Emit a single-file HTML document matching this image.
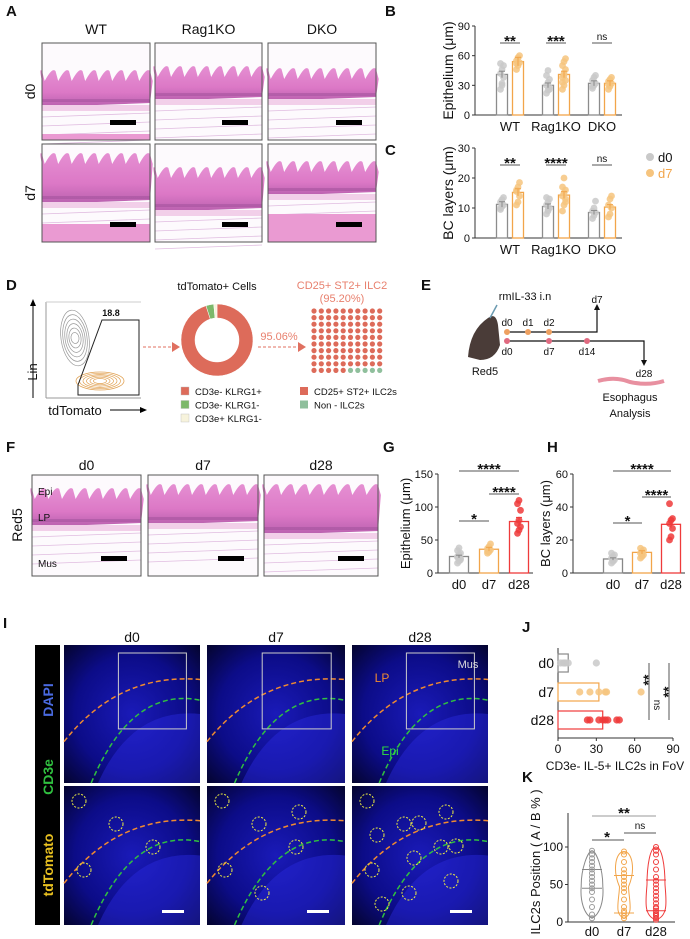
<!DOCTYPE html>
<html><head><meta charset="utf-8">
<style>
html,body{margin:0;padding:0;background:#fff;}
svg{display:block;font-family:"Liberation Sans",Arial,sans-serif;}
</style></head>
<body>
<svg id="fig" width="690" height="939" viewBox="0 0 690 939" xmlns="http://www.w3.org/2000/svg">
<defs>
<linearGradient id="he" x1="0" y1="0" x2="0" y2="1">
<stop offset="0" stop-color="#e58fd2"/><stop offset="0.6" stop-color="#dc78c6"/><stop offset="1" stop-color="#b860ae"/>
</linearGradient>
<radialGradient id="fl" cx="0.5" cy="0.5" r="0.7">
<stop offset="0" stop-color="#1a1ab8"/><stop offset="0.6" stop-color="#0c0c88"/><stop offset="1" stop-color="#040430"/>
</radialGradient>
</defs>
<g id="panels"></g>
</svg>
<script>
// ---- chart data ----
var bGroups=["WT","Rag1KO","DKO"];
var bD0=[41,30,32];
var bD7=[54,41,32];
var bD0pts=[[26,32,38,42,46,50,52,30],[22,25,28,30,33,36,40,45,26],[27,30,32,35,38,40,29]];
var bD7pts=[[46,50,53,55,58,60,52],[26,30,35,38,42,46,50,54,57,33,40],[26,29,32,34,36,38,31]];
var bTicks=[0,30,60,90];
var bSig=["**","***","ns"];
var cD0=[11.2,10.5,8.5];
var cD7=[15.2,14.3,10.3];
var cD0pts=[[9.5,10.5,11,12,12.8,13.5,10],[8,9,10,11,12,13,13.5,9.5],[6.5,7.5,8.5,9,10,12.3]];
var cD7pts=[[11,12,14,15.5,17,18.5,16],[9,11,13,14,15,16,17,20,12],[7,8,10,11,13,14]];
var cTicks=[0,10,20,30];
var cSig=["**","****","ns"];
var donutVals=[95.06,3.5,1.44];
var gridRed=95;
var tCats=["d0","d7","d28"];
var gMeans=[25,36,78];
var gPts=[[15,18,22,25,28,30,34,38,20,24],[30,32,35,37,40,44,33,36],[60,65,70,75,80,95,105,110]];
var gTicks=[0,50,100,150];
var hMeans=[8.5,12.5,29.5];
var hPts=[[6,7,8,9,10,11,12,8],[9,10,11,12,13,14,15,12],[20,22,27,30,32,33,42]];
var hTicks=[0,20,40,60];
var jMeans=[8,32,35];
var jPts=[[2,4,5,6,8,30],[17,25,32,37,38,65],[23,25,32,35,37,39,46,48]];
var jTicks=[0,30,60,90];
var kPts=[[5,10,20,30,40,45,50,55,60,65,70,75,80,85,90,95],[5,8,12,15,20,30,40,45,50,55,60,65,70,80,90,94],[3,5,8,10,12,15,18,20,25,30,35,40,45,50,55,60,70,80,90,95,100]];
var kMed=[[45,70],[12,62],[15,56]];
var kTicks=[0,50,100];

var NS="http://www.w3.org/2000/svg";
var root=document.getElementById("panels");
function el(tag,attrs,parent,text){var e=document.createElementNS(NS,tag);for(var k in attrs)e.setAttribute(k,attrs[k]);if(text!==undefined)e.textContent=text;(parent||root).appendChild(e);return e;}
function txt(x,y,s,size,parent,extra){var a={x:x,y:y,"font-size":size,"text-anchor":"middle",fill:"#111"};if(extra)for(var k in extra)a[k]=extra[k];return el("text",a,parent,s);}
function lbl(x,y,s){var t=txt(x,y,s,15,root,{"font-weight":"bold","text-anchor":"start"});

}
var grey="#8c8c8c",greyPt="#c9c9c9",org="#f2a54a",orgPt="#f6c47e",red="#ef3b3b",redPt="#ee3a3a";

// ---------- Panel A histology ----------
lbl(6,16,"A");
var aCols=[[42,150],[155,262],[268,376]], aRows=[[43,140],[144,242]];
["WT","Rag1KO","DKO"].forEach(function(s,i){var t=txt((aCols[i][0]+aCols[i][1])/2,34,s,14);

});
["d0","d7"].forEach(function(s,i){var t=txt(0,0,s,14,root,{transform:"translate(35,"+((aRows[i][0]+aRows[i][1])/2)+") rotate(-90)"});

});
function histo(x0,x1,y0,y1,bandTop,bandH,nm,muscle){
 var g=el("g",{});
 
 
 el("rect",{x:x0,y:y0,width:x1-x0,height:y1-y0,fill:"#fdfafd"},g);
 var w=x1-x0,p="M"+x0+","+(y0+bandTop+6);
 for(var i=0;i<=8;i++){var xx=x0+w*i/8;p+=" Q"+(xx-w/32)+","+(y0+bandTop-8)+" "+xx+","+(y0+bandTop-4)+" L"+(xx+w/40)+","+(y0+bandTop+6);}
 p+=" L"+x1+","+(y0+bandTop+bandH)+" L"+x0+","+(y0+bandTop+bandH+4)+"Z";
 el("path",{d:p,fill:"url(#he)"},g);
 el("rect",{x:x0,y:y0+bandTop+bandH-4,width:w,height:3,fill:"#a0509a","fill-opacity":0.5},g);
 el("rect",{x:x0,y:y0+bandTop+bandH+2,width:w,height:6,fill:"#f2cfe9"},g);
 for(var k=0;k<4;k++)el("line",{x1:x0,y1:y0+bandTop+bandH+14+k*9,x2:x1,y2:y0+bandTop+bandH+10+k*9,stroke:"#e0bce0","stroke-width":0.8},g);
 if(muscle)el("rect",{x:x0,y:y1-muscle,width:w,height:muscle,fill:"#ea9ad2"},g);
 el("rect",{x:x1-40,y:y1-20,width:26,height:5,fill:"#000"},g);
 el("rect",{x:x0,y:y0,width:w,height:y1-y0,fill:"none",stroke:"#555","stroke-width":1},g);
}
histo(42,150,43,140,32,28,"he-wt-d0",6);histo(155,262,43,140,28,26,"he-rag1ko-d0",0);histo(268,376,43,140,30,24,"he-dko-d0",0);
histo(42,150,144,242,14,42,"he-wt-d7",18);histo(155,262,144,242,28,36,"he-rag1ko-d7",0);histo(268,376,144,242,22,26,"he-dko-d7",28);

// ---------- generic vertical bar chart ----------
function vbar(o){
 var g=el("g",{});
 
 
 var max=o.ticks[o.ticks.length-1];
 function Y(v){return o.y0-(v/max)*(o.y0-o.yTop);}
 el("line",{x1:o.ax,y1:o.yTop,x2:o.ax,y2:o.y0,stroke:"#333"},g);
 el("line",{x1:o.ax,y1:o.y0,x2:o.xEnd,y2:o.y0,stroke:"#333"},g);
 o.ticks.forEach(function(t){el("line",{x1:o.ax-3,y1:Y(t),x2:o.ax,y2:Y(t),stroke:"#333"},g);
  var tl=txt(o.ax-5,Y(t)+4,String(t),11,g,{"text-anchor":"end"});
  
  });
 var yl=txt(0,0,o.ylab,o.ylsize||14,g,{transform:"translate("+o.ylx+","+((o.yTop+o.y0)/2)+") rotate(-90)"});
 
 
 o.series.forEach(function(s){
  s.means.forEach(function(m,i){
   var cx=o.xs[i]+s.off, bw=o.bw;
   var col=s.cols?s.cols[i]:s.col, pc=s.pcs?s.pcs[i]:s.pt;
   var b=el("rect",{x:cx-bw/2,y:Y(m),width:bw,height:o.y0-Y(m),fill:"#fff",stroke:col,"stroke-width":1.3},g);
   
   
   s.pts[i].forEach(function(v,j){var c=el("circle",{cx:cx+((j%3)-1)*1.5,cy:Y(v),r:3.4,fill:pc,"fill-opacity":0.85},g);
    
    });
   el("line",{x1:cx-3,y1:Y(m*1.08),x2:cx+3,y2:Y(m*1.08),stroke:col},g);
   el("line",{x1:cx,y1:Y(m*1.08),x2:cx,y2:Y(m*0.92),stroke:col},g);
  });
 });
 o.cats.forEach(function(c,i){var t=txt(o.xs[i]+(o.catOff||0),o.y0+16,c,13,g);
  
  });
 (o.sigs||[]).forEach(function(s){el("line",{x1:s[0],y1:s[2],x2:s[1],y2:s[2],stroke:"#555"},g);
  var st=txt((s[0]+s[1])/2,s[2]-(s[3]=="ns"?3:-3),s[3],s[3]=="ns"?10:15,g,{"font-weight":s[3]=="ns"?"normal":"bold"});
  
  });
 return g;
}
lbl(385,16,"B");lbl(385,155,"C");
var bxs=[510,556,602];
vbar({name:"chart-b-epithelium",ax:475,y0:115,yTop:26,xEnd:622,ticks:bTicks,ylab:"Epithelium (μm)",ylx:453,cats:bGroups,xs:bxs,bw:11,catOff:0,
 series:[{key:"d0",means:bD0,pts:bD0pts,col:grey,pt:greyPt,off:-8},{key:"d7",means:bD7,pts:bD7pts,col:org,pt:orgPt,off:8}],
 sigs:bSig.map(function(s,i){return [bxs[i]-10,bxs[i]+10,43,s];})});
vbar({name:"chart-c-bc-layers",ax:475,y0:238,yTop:148,xEnd:622,ticks:cTicks,ylab:"BC layers (μm)",ylx:453,cats:bGroups,xs:bxs,bw:11,
 series:[{key:"d0",means:cD0,pts:cD0pts,col:grey,pt:greyPt,off:-8},{key:"d7",means:cD7,pts:cD7pts,col:org,pt:orgPt,off:8}],
 sigs:cSig.map(function(s,i){return [bxs[i]-10,bxs[i]+10,165,s];})});
var lg=el("g",{});
el("circle",{cx:650,cy:157,r:4,fill:greyPt},lg);txt(658,162,"d0",13,lg,{"text-anchor":"start"});
el("circle",{cx:650,cy:173,r:4,fill:orgPt},lg);txt(658,178,"d7",13,lg,{"text-anchor":"start",fill:org});

// ---------- Panel D ----------
lbl(6,290,"D");
var fg=el("g",{});
el("line",{x1:46,y1:302,x2:46,y2:398,stroke:"#999"},fg);el("line",{x1:46,y1:398,x2:141,y2:398,stroke:"#999"},fg);
el("line",{x1:46,y1:302,x2:141,y2:302,stroke:"#ccc"},fg);
for(var i=0;i<6;i++){el("ellipse",{cx:75,cy:338,rx:14-i*2,ry:28-i*4.5,fill:"none",stroke:"#999","stroke-width":0.7,transform:"rotate(-8 75 338)"},fg);
 el("ellipse",{cx:100,cy:381,rx:24-i*3.5,ry:9-i*1.3,fill:"none",stroke:"#e0a050","stroke-width":0.7},fg);}
el("polygon",{points:"102,320 139,320 139,395 78,395 78,385",fill:"none",stroke:"#222","stroke-width":1},fg);
txt(111,316,"18.8",9,fg,{"font-weight":"bold"});
el("line",{x1:33,y1:398,x2:33,y2:305,stroke:"#000"},fg);el("polygon",{points:"30,306 36,306 33,299",fill:"#000"},fg);
txt(0,0,"Lin",13,fg,{transform:"translate(37,372) rotate(-90)"});
txt(75,415,"tdTomato",13,fg);el("line",{x1:110,y1:410,x2:140,y2:410,stroke:"#000"},fg);el("polygon",{points:"140,407 140,413 147,410",fill:"#000"},fg);
el("line",{x1:143,y1:347,x2:173,y2:347,stroke:"#e07060","stroke-dasharray":"3,2"});el("polygon",{points:"172,342 172,352 180,347",fill:"#e07060"});
var dg=el("g",{});
txt(217,290,"tdTomato+ Cells",11,dg);
var dCols=["#dd6b5a","#7cb86a","#f7f3dc"],tot=donutVals.reduce(function(a,b){return a+b;},0),ang=0,cx=217,cy=340,R=36,r=22;
donutVals.forEach(function(v,i){var a0=ang,a1=ang+v/tot*2*Math.PI;ang=a1;
 var p=function(rr,a){return (cx+rr*Math.sin(a)).toFixed(2)+","+(cy-rr*Math.cos(a)).toFixed(2);};
 var lg2=(a1-a0)>Math.PI?1:0;
 var s=el("path",{d:"M"+p(R,a0)+" A"+R+","+R+" 0 "+lg2+" 1 "+p(R,a1)+" L"+p(r,a1)+" A"+r+","+r+" 0 "+lg2+" 0 "+p(r,a0)+"Z",fill:dCols[i],stroke:"#fff","stroke-width":0.5},dg);
 });
var dl=["CD3e- KLRG1+","CD3e- KLRG1-","CD3e+ KLRG1-"];
dl.forEach(function(s,i){var e=el("rect",{x:181,y:387+i*13.5,width:8,height:8,fill:dCols[i],stroke:"#bbb","stroke-width":0.4});
 
 txt(195,395+i*13.5,s,9.5,root,{"text-anchor":"start"});});
txt(279,340,"95.06%",11,root,{fill:"#e8806e"});
el("line",{x1:258,y1:347,x2:298,y2:347,stroke:"#e07060","stroke-dasharray":"3,2"});el("polygon",{points:"298,342 298,352 306,347",fill:"#e07060"});
txt(342,289,"CD25+ ST2+ ILC2",11,root,{fill:"#e8806e"});txt(342,302,"(95.20%)",11,root,{fill:"#e8806e"});
var gg=el("g",{});
for(var k=0;k<100;k++){var rr2=Math.floor(k/10),cc=k%10;var c=el("circle",{cx:314+cc*7.3,cy:311+rr2*6.6,r:2.6,fill:k<gridRed?"#dd6b5a":"#8fbf9c"},gg);
 }
[["CD25+ ST2+ ILC2s","#dd6b5a"],["Non - ILC2s","#8fbf9c"]].forEach(function(s,i){el("rect",{x:300,y:387+i*13.5,width:8,height:8,fill:s[1]});
 txt(314,395+i*13.5,s[0],9.5,root,{"text-anchor":"start"});});

// ---------- Panel E ----------
lbl(421,290,"E");
var eg=el("g",{});
el("path",{d:"M468,357 Q470,330 488,318 Q496,312 498,325 L500,345 Q495,360 480,360Z",fill:"#4a3c38"},eg);
el("line",{x1:490,y1:318,x2:497,y2:305,stroke:"#6a9ab0","stroke-width":1.5},eg);
txt(485,375,"Red5",11,eg);txt(525,300,"rmIL-33 i.n",11,eg);
el("polyline",{points:"507,332 597,332 597,309",fill:"none",stroke:"#111","stroke-width":1.2},eg);el("polygon",{points:"594,310 600,310 597,304",fill:"#111"},eg);
txt(597,303,"d7",10,eg);
el("polyline",{points:"507,341 644,341 644,361",fill:"none",stroke:"#111","stroke-width":1.2},eg);el("polygon",{points:"641,360 647,360 644,366",fill:"#111"},eg);
txt(644,377,"d28",10,eg);
[[507,"d0"],[528,"d1"],[549,"d2"]].forEach(function(d){el("circle",{cx:d[0],cy:332,r:3,fill:"#eea060"},eg);txt(d[0],326,d[1],10,eg);});
[[507,"d0"],[549,"d7"],[587,"d14"]].forEach(function(d){el("circle",{cx:d[0],cy:341,r:3,fill:"#e06a80"},eg);txt(d[0],355,d[1],10,eg);});
el("path",{d:"M598,381 Q615,376 630,382 Q648,386 664,381",fill:"none",stroke:"#e890a0","stroke-width":4},eg);
txt(630,401,"Esophagus",11,eg);txt(630,417,"Analysis",11,eg);

// ---------- Panel F ----------
lbl(6,452,"F");
var fCols=[[32,141],[148,258],[264,378]];
["d0","d7","d28"].forEach(function(s,i){txt((fCols[i][0]+fCols[i][1])/2,470,s,14);histo(fCols[i][0],fCols[i][1],475,576,[18,14,14][i],[30,32,42][i],"he-red5-"+s,0);});
txt(0,0,"Red5",14,root,{transform:"translate(22,525) rotate(-90)"});
txt(38,495,"Epi",10,root,{"text-anchor":"start"});txt(38,521,"LP",10,root,{"text-anchor":"start"});txt(38,567,"Mus",10,root,{"text-anchor":"start"});

// ---------- Panels G & H ----------
lbl(383,452,"G");lbl(547,452,"H");
var gx=[459,489,519],hx=[613,642,671];
var dayBar=["#888",org,red],dayPt=[greyPt,orgPt,redPt];
vbar({name:"chart-g-epithelium",ax:438,y0:573,yTop:474,xEnd:533,ticks:gTicks,ylab:"Epithelium (μm)",ylx:410,ylsize:13,cats:tCats,xs:gx,bw:19,
 series:[{key:"all",means:gMeans,pts:gPts,cols:dayBar,pcs:dayPt,off:0}],
 sigs:[[gx[0],gx[1],521,"*"],[gx[1],gx[2],494,"****"],[gx[0],gx[2],471,"****"]]});
vbar({name:"chart-h-bc-layers",ax:573,y0:573,yTop:474,xEnd:685,ticks:hTicks,ylab:"BC layers (μm)",ylx:550,ylsize:13,cats:tCats,xs:hx,bw:19,
 series:[{key:"all",means:hMeans,pts:hPts,cols:dayBar,pcs:dayPt,off:0}],
 sigs:[[hx[0],hx[1],523,"*"],[hx[1],hx[2],497,"****"],[hx[0],hx[2],471,"****"]]});

// ---------- Panel I fluorescence ----------
lbl(3,628,"I");
var iCols=[[64,200],[207,345],[352,488]];
el("rect",{x:35,y:645,width:25,height:280,fill:"#000"});
txt(0,0,"DAPI",14,root,{transform:"translate(53,700) rotate(-90)",fill:"#4a6ae0","font-weight":"bold"});
txt(0,0,"CD3e",14,root,{transform:"translate(53,777) rotate(-90)",fill:"#30c040","font-weight":"bold"});
txt(0,0,"tdTomato",14,root,{transform:"translate(53,865) rotate(-90)",fill:"#e8c020","font-weight":"bold"});
["d0","d7","d28"].forEach(function(s,i){txt((iCols[i][0]+iCols[i][1])/2,642,s,14);
 [[645,783],[786,925]].forEach(function(r,j){var g=el("g",{});
  
  
  var x0=iCols[i][0],w=iCols[i][1]-x0,h=r[1]-r[0];
  el("rect",{x:x0,y:r[0],width:w,height:h,fill:"url(#fl)"},g);
  el("path",{d:"M"+(x0+w*0.25)+","+(r[0]+h)+" Q"+(x0+w*0.5)+","+(r[0]+h*0.45)+" "+(x0+w)+","+(r[0]+h*0.5)+" L"+(x0+w)+","+(r[0]+h)+"Z",fill:"#2a2ae0","fill-opacity":0.45},g);
  el("path",{d:"M"+x0+","+(r[0]+h*0.7)+" Q"+(x0+w*0.4)+","+(r[0]+h*0.2)+" "+(x0+w)+","+(r[0]+h*0.25),fill:"none",stroke:"#f08a30","stroke-width":1.5,"stroke-dasharray":"5,3"},g);
  el("path",{d:"M"+(x0+w*0.2)+","+(r[0]+h)+" Q"+(x0+w*0.5)+","+(r[0]+h*0.3)+" "+(x0+w)+","+(r[0]+h*0.4),fill:"none",stroke:"#30c040","stroke-width":1.5,"stroke-dasharray":"5,3"},g);
  if(j===0){el("rect",{x:x0+w*0.4,y:r[0]+8,width:w*0.5,height:h*0.55,fill:"none",stroke:"#ccc","stroke-width":1},g);}
  else{for(var q=0;q<[4,6,12][i];q++){el("circle",{cx:x0+15+((q*37)%(w-30)),cy:r[0]+15+((q*23)%(h-35)),r:7,fill:"none",stroke:"#f0f040","stroke-width":1,"stroke-dasharray":"2,1.5"},g);}
   el("rect",{x:x0+w-38,y:r[0]+h-15,width:22,height:3,fill:"#fff"},g);}
 });});
txt(468,668,"Mus",11,root,{fill:"#ddd"});txt(382,682,"LP",12,root,{fill:"#f08a30"});txt(390,755,"Epi",12,root,{fill:"#30e040"});

// ---------- Panel J horizontal bar ----------
lbl(522,632,"J");
var jg=el("g",{});
var jAx=558,jR=673,jY=[663,692,720],jBot=738;
function JX(v){return jAx+v/jTicks[jTicks.length-1]*(jR-jAx);}
el("line",{x1:jAx,y1:648,x2:jAx,y2:jBot,stroke:"#333"},jg);el("line",{x1:jAx,y1:jBot,x2:jR,y2:jBot,stroke:"#333"},jg);
jTicks.forEach(function(t){el("line",{x1:JX(t),y1:jBot,x2:JX(t),y2:jBot+3,stroke:"#333"},jg);txt(JX(t),jBot+15,String(t),12,jg);});
txt(615,770,"CD3e- IL-5+ ILC2s in FoV",12,jg);
var jc=[["#888",greyPt],[org,orgPt],[red,redPt]];
jMeans.forEach(function(m,i){var b=el("rect",{x:jAx,y:jY[i]-9,width:JX(m)-jAx,height:18,fill:"#fff",stroke:jc[i][0],"stroke-width":1.2},jg);
 
 txt(jAx-4,jY[i]+5,tCats[i],14,jg,{"text-anchor":"end"});
 jPts[i].forEach(function(v){var c=el("circle",{cx:JX(v),cy:jY[i],r:3.6,fill:jc[i][1],"fill-opacity":0.85},jg);});});
el("line",{x1:649,y1:663,x2:649,y2:720,stroke:"#555"},jg);el("line",{x1:669,y1:663,x2:669,y2:720,stroke:"#555"},jg);
txt(0,0,"**",14,jg,{transform:"translate(653,680) rotate(-90)","font-weight":"bold"});
txt(0,0,"ns",10,jg,{transform:"translate(654,705) rotate(90)"});
txt(0,0,"**",14,jg,{transform:"translate(673,692) rotate(-90)","font-weight":"bold"});

// ---------- Panel K violin ----------
lbl(522,782,"K");
var kg=el("g",{});
var kAx=568,kY0=922,kY100=847,kX=[592,624,656];
function KY(v){return kY0-v/100*(kY0-kY100);}
el("line",{x1:kAx,y1:813,x2:kAx,y2:kY0,stroke:"#333"},kg);el("line",{x1:kAx,y1:kY0,x2:675,y2:kY0,stroke:"#333"},kg);
kTicks.forEach(function(t){el("line",{x1:kAx-3,y1:KY(t),x2:kAx,y2:KY(t),stroke:"#333"},kg);txt(kAx-5,KY(t)+4,String(t),12,kg,{"text-anchor":"end"});});
txt(0,0,"ILC2s Position ( A / B % )",13,kg,{transform:"translate(540,862) rotate(-90)"});
kPts.forEach(function(arr,i){var col=jc[i][0];
 var mn=Math.min.apply(null,arr),mx=Math.max.apply(null,arr),x=kX[i];
 var wd=[[4,11,12,8],[8,12,5,10],[6,9,10,13]][i];
 var p="M"+x+","+KY(mx)+" C"+(x+wd[0])+","+KY(mx)+" "+(x+wd[1])+","+KY(mx*0.75)+" "+(x+wd[2]*0.9)+","+KY(mx*0.5)+" C"+(x+wd[2])+","+KY(mx*0.3)+" "+(x+wd[3])+","+KY(mn+5)+" "+x+","+KY(mn);
 p+=" C"+(x-wd[3])+","+KY(mn+5)+" "+(x-wd[2])+","+KY(mx*0.3)+" "+(x-wd[2]*0.9)+","+KY(mx*0.5)+" C"+(x-wd[1])+","+KY(mx*0.75)+" "+(x-wd[0])+","+KY(mx)+" "+x+","+KY(mx)+"Z";
 var v=el("path",{d:p,fill:"none",stroke:col,"stroke-width":1},kg);
 kMed[i].forEach(function(q){el("line",{x1:x-10,y1:KY(q),x2:x+10,y2:KY(q),stroke:col},kg);});
 arr.forEach(function(val){var c=el("circle",{cx:x,cy:KY(val),r:2.5,fill:"none",stroke:col=="#888"?"#999":col,"stroke-width":1},kg);});
 txt(x,936,tCats[i],13,kg);});
el("line",{x1:592,y1:816,x2:656,y2:816,stroke:"#999"},kg);txt(624,818,"**",15,kg,{"font-weight":"bold"});
el("line",{x1:592,y1:840,x2:624,y2:840,stroke:"#555"},kg);txt(607,842,"*",15,kg,{"font-weight":"bold"});
el("line",{x1:624,y1:833,x2:656,y2:833,stroke:"#555"},kg);txt(640,829,"ns",10,kg);
</script>
</body></html>
